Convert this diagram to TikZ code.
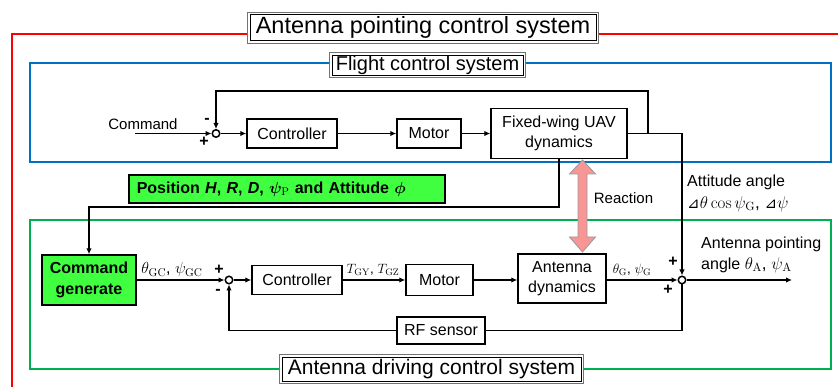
\RequirePackage{fix-cm}
\documentclass[tikz,border=0pt]{standalone}
\usepackage[no-math]{fontspec}
\setmainfont{Liberation Sans}
\newfontfamily\djv{DejaVu Sans}
\usepackage{bm}
\usetikzlibrary{arrows.meta}
\definecolor{redf}{RGB}{255,0,0}
\definecolor{bluef}{RGB}{0,112,192}
\definecolor{greenf}{RGB}{0,176,80}
\definecolor{lgreen}{RGB}{64,255,64}
\definecolor{pinkf}{RGB}{248,150,150}
\begin{document}
\begin{tikzpicture}[x=1pt,y=-1pt,
  blk/.style={draw, line width=1.4pt, fill=white, align=center, inner sep=0pt,
    font=\fontsize{16}{20.5}\selectfont},
  gblk/.style={blk, fill=lgreen, font=\fontsize{16}{20.5}\selectfont\bfseries},
  sumj/.style={circle, draw, line width=1.5pt, minimum size=7.5pt, inner sep=0pt, fill=white},
  conn/.style={line width=1.5pt},
  arr/.style={conn, -{Latex[length=6pt,width=5.5pt]}},
  ttlout/.style={draw=black!55, line width=0.9pt, fill=white, inner sep=0pt},
  ttl/.style={draw=black, line width=0.9pt, inner sep=0pt},
  sgn/.style={font=\fontsize{16}{16}\selectfont\bfseries, inner sep=0pt},
  lbl/.style={inner sep=0pt, font=\fontsize{15}{18}\selectfont},
  mlbl/.style={inner sep=0pt, font=\fontsize{16}{18}\selectfont},
  slbl/.style={inner sep=0pt, font=\fontsize{13.5}{15}\selectfont},
]
\useasboundingbox (0,0) rectangle (838,387);

% frames
\draw[redf, line width=2pt] (840,34) -- (12,34) -- (12,390);
\draw[bluef, line width=2pt] (30,63) rectangle (831,162);
\draw[greenf, line width=2pt] (30,220) rectangle (831,369);

% titles
\node[ttlout, minimum width=351pt, minimum height=31pt] (tmainf) at (423,27.5) {};
\node[ttl, minimum width=346pt, minimum height=26pt, font=\fontsize{23.5}{26}\selectfont] (tmain) at (423,27.5) {Antenna pointing control system};
\node[ttlout, minimum width=196pt, minimum height=25pt] (tflightf) at (427.5,65) {};
\node[ttl, minimum width=191pt, minimum height=20pt, font=\fontsize{20}{22}\selectfont] (tflight) at (427.5,65) {Flight control system};
\node[ttlout, minimum width=304pt, minimum height=29pt] (tdrivef) at (431.5,369) {};
\node[ttl, minimum width=299pt, minimum height=24pt, font=\fontsize{21}{23}\selectfont] (tdrive) at (431.5,369) {Antenna driving control system};

% flight control row
\node[lbl, anchor=center] (cmdlbl) at (143,124) {Command};
\coordinate (cmdin) at (135,133.5);
\node[sumj] (sum1) at (216,133.5) {};
\node[sgn] (s1m) at (207,121) {-};
\node[sgn] (s1p) at (204,141.5) {+};
\node[blk, minimum width=90pt, minimum height=29pt] (ctrl1) at (292,133.5) {Controller};
\node[blk, minimum width=64pt, minimum height=29pt] (mot1) at (429,133.5) {Motor};
\node[blk, minimum width=136pt, minimum height=50pt] (uav) at (559,133.5) {Fixed-wing UAV\\dynamics};

\draw[arr] (cmdin) -- (sum1);
\draw[arr] (sum1) -- (ctrl1);
\draw[arr] (ctrl1) -- (mot1);
\draw[arr] (mot1) -- (uav);

\coordinate (fb1) at (648,133.5);
\coordinate (fbtop) at (648,91);
\coordinate (tap) at (682,133.5);
\draw[conn] (uav.east) -- (tap);
\draw[arr] (fb1) -- (fbtop) -| (sum1.north);

% position label
\node[gblk, anchor=north west, minimum width=316pt, minimum height=28pt, text width=300pt, align=left, line width=1.6pt] (pos) at (128,174)
  {Position \textit{H}, \textit{R}, \textit{D}, $\bm{\psi}_{\mathrm{P}}$ and Attitude $\bm{\phi}$};

% antenna row
\node[gblk, minimum width=94pt, minimum height=50pt] (cmdgen) at (89,280) {Command\\generate};
\coordinate (posc) at (89,207);
\draw[arr] (uav.south) |- (posc) -- (cmdgen.north);

\node[sumj] (sum2) at (229,280) {};
\node[sgn] (s2p) at (219,269.5) {+};
\node[sgn] (s2m) at (218,292) {-};
\node[blk, minimum width=90pt, minimum height=29pt] (ctrl2) at (297,280) {Controller};
\node[blk, minimum width=67pt, minimum height=31pt] (mot2) at (439.5,280) {Motor};
\node[blk, minimum width=88pt, minimum height=49pt] (antd) at (562,278.5) {Antenna\\dynamics};
\node[sumj] (sum3) at (682,280) {};
\node[sgn] (s3a) at (673,262) {+};
\node[sgn] (s3b) at (668,290) {+};
\node[blk, minimum width=88pt, minimum height=27pt] (rf) at (441,330.5) {RF sensor};
\coordinate (outend) at (792,280);

\draw[arr] (cmdgen.east |- sum2) -- (sum2);
\draw[arr] (sum2) -- (ctrl2);
\draw[arr] (ctrl2) -- (mot2.west |- ctrl2);
\draw[arr] (mot2.east |- ctrl2) -- (antd.west |- ctrl2);
\draw[arr] (antd.east |- sum3) -- (sum3);
\draw[arr] (sum3) -- (outend);
\draw[arr] (tap) -- (sum3.north);

\coordinate (rfr) at (682,330.5);
\coordinate (rfl) at (229,330.5);
\draw[conn] (sum3.south) -- (rfr) -- (rf.east);
\draw[arr] (rf.west) -- (rfl) -- (sum2.south);

% edge labels
\node[mlbl] (lgc) at (172,270) {$\theta_{\mathrm{GC}}$,\ $\psi_{\mathrm{GC}}$};
\node[slbl] (lt) at (373,269.5) {$T_{\mathrm{GY}}$,\ $T_{\mathrm{GZ}}$};
\node[slbl] (lg) at (632,270) {$\theta_{\mathrm{G}}$,\ $\psi_{\mathrm{G}}$};
\node[inner sep=0pt, anchor=west, align=left, font=\fontsize{16}{21}\selectfont] (lout) at (701,254.5)
  {Antenna pointing\\angle {\fontsize{17}{21}\selectfont$\theta_{\mathrm{A}}$,\ $\psi_{\mathrm{A}}$}};
\node[inner sep=0pt, anchor=west, align=left, font=\fontsize{16}{22}\selectfont] (latt) at (687,193)
  {Attitude angle\\{\djv\fontsize{15}{22}\selectfont ⊿}{\fontsize{17}{22}\selectfont$\theta\cos\psi_{\mathrm{G}}$,\ }{\djv\fontsize{15}{22}\selectfont ⊿}{\fontsize{17}{22}\selectfont$\psi$}};

% reaction arrow
\draw[draw=black!40, fill=pinkf, line width=0.8pt]
  (582.5,160) -- (595.5,174) -- (587,174) -- (587,237) -- (595.5,237) -- (582.5,252)
  -- (569.5,237) -- (578,237) -- (578,174) -- (569.5,174) -- cycle;
\node[lbl] (lreact) at (623.5,198) {Reaction};
\end{tikzpicture}
\end{document}
